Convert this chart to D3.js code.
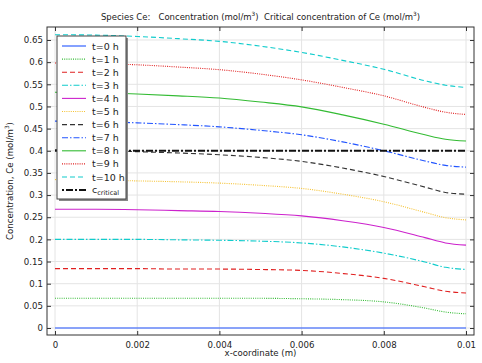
<!DOCTYPE html>
<html><head><meta charset="utf-8">
<script src="https://cdn.jsdelivr.net/npm/d3@7/dist/d3.min.js"></script>
<style>body{margin:0;background:#fff} svg text{font-family:"DejaVu Sans",sans-serif;fill:#222;white-space:pre}</style>
</head><body><svg id="c" width="482" height="363"></svg>
<script>
const xCoords = [0,0.001,0.002,0.003,0.004,0.005,0.006,0.007,0.008,0.009,0.0095,0.01];
const seriesNames = ["t=0 h","t=1 h","t=2 h","t=3 h","t=4 h","t=5 h","t=6 h","t=7 h","t=8 h","t=9 h","t=10 h"];
const t0 = [0,0,0,0,0,0,0,0,0,0,0,0];
const t1 = [0.067,0.067,0.067,0.067,0.067,0.067,0.066,0.064,0.059,0.045,0.036,0.032];
const t2 = [0.134,0.134,0.134,0.133,0.133,0.132,0.130,0.123,0.112,0.093,0.083,0.079];
const t3 = [0.200,0.200,0.200,0.199,0.198,0.196,0.192,0.183,0.169,0.149,0.137,0.132];
const t4 = [0.268,0.268,0.267,0.265,0.263,0.259,0.253,0.242,0.227,0.204,0.192,0.187];
const t5 = [0.335,0.334,0.332,0.330,0.327,0.322,0.315,0.302,0.285,0.261,0.249,0.244];
const t6 = [0.402,0.401,0.398,0.395,0.391,0.385,0.376,0.361,0.342,0.318,0.306,0.302];
const t7 = [0.467,0.466,0.463,0.459,0.454,0.446,0.436,0.420,0.400,0.377,0.367,0.363];
const t8 = [0.532,0.531,0.528,0.524,0.519,0.510,0.499,0.481,0.460,0.436,0.426,0.422];
const t9 = [0.598,0.597,0.594,0.589,0.583,0.573,0.560,0.543,0.524,0.498,0.487,0.482];
const t10 = [0.662,0.661,0.658,0.653,0.647,0.636,0.622,0.604,0.584,0.558,0.548,0.543];
const criticalValue = 0.4;
const criticalLabel = "critical";
const xTicks = [0,0.002,0.004,0.006,0.008,0.01];
const yTicks = [0,0.05,0.1,0.15,0.2,0.25,0.3,0.35,0.4,0.45,0.5,0.55,0.6,0.65];

const allSeries = [t0,t1,t2,t3,t4,t5,t6,t7,t8,t9,t10];
const colors = ["#2255ff","#33bb33","#e02020","#11cccc","#cc22cc","#f5c232","#333333","#2255ff","#33bb33","#e02020","#11cccc"];
const dashes = [null,"1,1.2","5,3","6,2,1.5,2"];

const svg = d3.select("#c");
const L=47,R=474,T=27,B=335;
const x = d3.scaleLinear().domain([-8/41100, 0.01+8/41100]).range([L,R]);
const y = d3.scaleLinear().domain([-7/443.08, 0.65+13/443.08]).range([B,T]);

// grid
const g = svg.append("g");
g.selectAll(".gx").data(xTicks).join("line").attr("x1",d=>x(d)).attr("x2",d=>x(d)).attr("y1",T).attr("y2",B).attr("stroke","#e4e4e4");
g.selectAll(".gy").data(yTicks).join("line").attr("y1",d=>y(d)).attr("y2",d=>y(d)).attr("x1",L).attr("x2",R).attr("stroke","#e4e4e4");

const fmt = d=>String(+d.toFixed(3));
const ax = svg.append("g").attr("transform",`translate(0,${B})`).call(d3.axisBottom(x).tickValues(xTicks).tickSize(-4).tickPadding(7).tickFormat(fmt));
const ay = svg.append("g").attr("transform",`translate(${L},0)`).call(d3.axisLeft(y).tickValues(yTicks).tickSize(-4).tickPadding(4).tickFormat(fmt));
const at = svg.append("g").attr("transform",`translate(0,${T})`).call(d3.axisTop(x).tickValues(xTicks).tickSize(-4).tickFormat(""));
const ar = svg.append("g").attr("transform",`translate(${R},0)`).call(d3.axisRight(y).tickValues(yTicks).tickSize(-4).tickFormat(""));
[ax,ay,at,ar].forEach(a=>{a.select(".domain").remove();a.selectAll("line").attr("stroke","#333");a.selectAll("text").attr("font-size",8.6).attr("font-family","DejaVu Sans").attr("fill","#222");});
svg.append("rect").attr("x",L).attr("y",T).attr("width",R-L).attr("height",B-T).attr("fill","none").attr("stroke","#333");

const line = d3.line().x((d,i)=>x(xCoords[i])).y(d=>y(d)).curve(d3.curveMonotoneX);
svg.append("clipPath").attr("id","cp").append("rect").attr("x",L).attr("y",T).attr("width",R-L).attr("height",B-T);
const pg = svg.append("g").attr("clip-path","url(#cp)");
allSeries.forEach((s,i)=>{
  pg.append("path").attr("d",line(s)).attr("fill","none").attr("stroke",colors[i]).attr("stroke-width",1.1).attr("stroke-dasharray",dashes[i%4]);
});
pg.append("line").attr("x1",x(0)).attr("x2",x(0.01)).attr("y1",y(criticalValue)).attr("y2",y(criticalValue)).attr("stroke","#111").attr("stroke-width",2).attr("stroke-dasharray","7,2,2,2");

// legend
const lg = svg.append("g");
lg.append("rect").attr("x",59).attr("y",38).attr("width",69).attr("height",163).attr("fill","#888");
lg.append("rect").attr("x",57).attr("y",36).attr("width",69).attr("height",163).attr("fill","#fff").attr("stroke","#444");
seriesNames.forEach((n,i)=>{
  const yy = 46+i*13.1;
  lg.append("line").attr("x1",62).attr("x2",86).attr("y1",yy).attr("y2",yy).attr("stroke",colors[i]).attr("stroke-width",1.1).attr("stroke-dasharray",dashes[i%4]);
  lg.append("text").attr("x",92).attr("y",yy+3.5).attr("font-size",9.5).text(n);
});
{
  const yy = 46+11*13.1;
  lg.append("line").attr("x1",62).attr("x2",86).attr("y1",yy).attr("y2",yy).attr("stroke","#111").attr("stroke-width",2).attr("stroke-dasharray","7,2,2,2").attr("stroke-dashoffset",-4);
  const tx = lg.append("text").attr("x",92).attr("y",yy+3).attr("font-size",9.5);
  tx.append("tspan").text("c");
  tx.append("tspan").attr("font-size",6.5).attr("dy",2).text(criticalLabel);
}

// title
const tt = svg.append("text").attr("x",(L+R)/2).attr("y",20).attr("text-anchor","middle").attr("font-size",8.5);
tt.append("tspan").text("Species Ce:   Concentration (mol/m");
tt.append("tspan").attr("font-size",5.8).attr("dy",-4).text("3");
tt.append("tspan").attr("dy",4).text(")  Critical concentration of Ce (mol/m");
tt.append("tspan").attr("font-size",5.8).attr("dy",-4).text("3");
tt.append("tspan").attr("dy",4).text(")");

svg.append("text").attr("x",(L+R)/2).attr("y",356).attr("text-anchor","middle").attr("font-size",8.6).text("x-coordinate (m)");
const yl = svg.append("text").attr("transform",`translate(13,${(T+B)/2}) rotate(-90)`).attr("text-anchor","middle").attr("font-size",8.6);
yl.append("tspan").text("Concentration, Ce (mol/m");
yl.append("tspan").attr("font-size",5.8).attr("dy",-4).text("3");
yl.append("tspan").attr("dy",4).text(")");
</script></body></html>
